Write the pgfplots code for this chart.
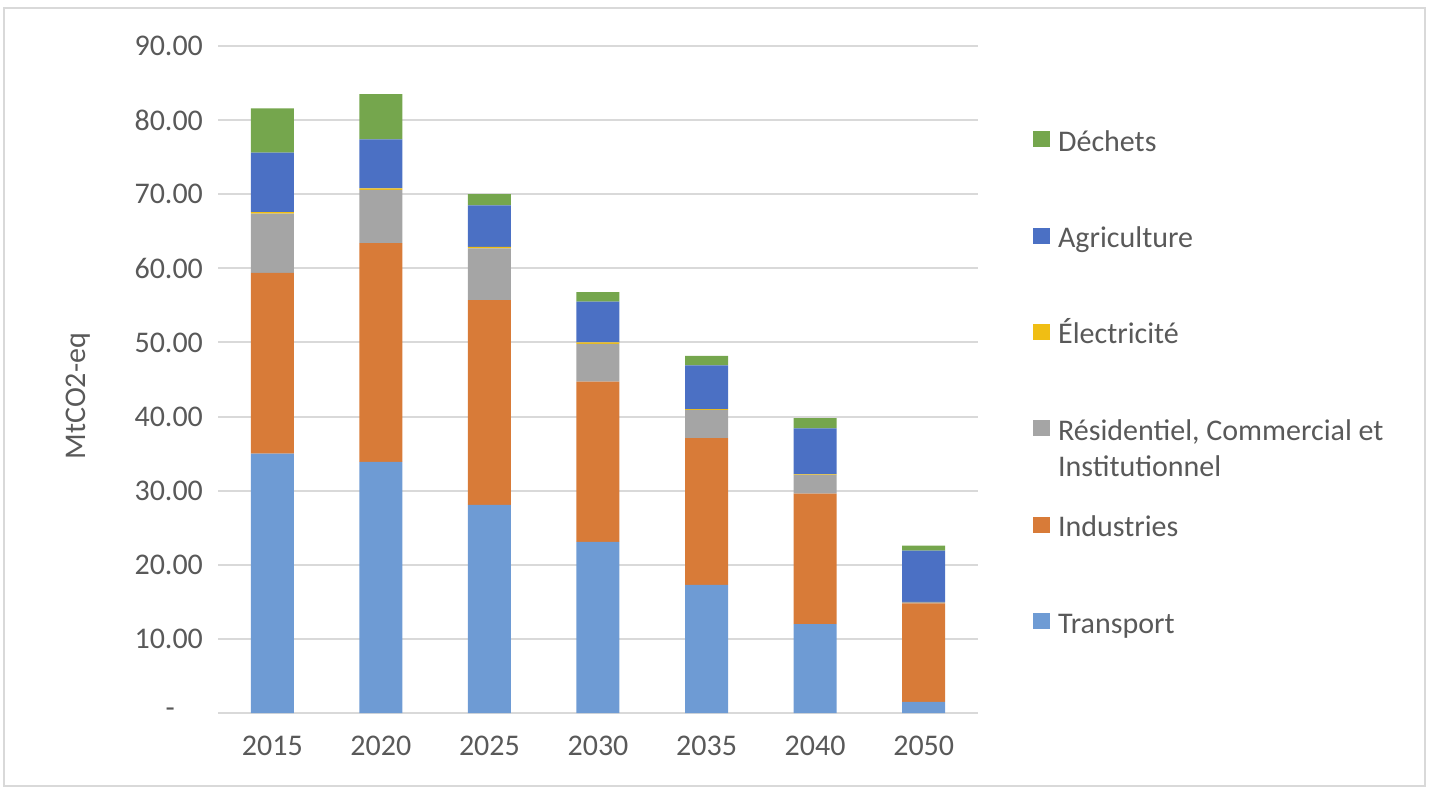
\documentclass[border=0pt]{standalone}
\usepackage{fontspec}
\setmainfont{Carlito}
\usepackage{pgfplots}
\pgfplotsset{compat=1.18}
\definecolor{ctransport}{RGB}{110,155,212}
\definecolor{cindus}{RGB}{216,123,56}
\definecolor{cresid}{RGB}{165,165,165}
\definecolor{celec}{RGB}{240,190,20}
\definecolor{cagri}{RGB}{75,112,196}
\definecolor{cdechets}{RGB}{117,166,77}
\definecolor{ctext}{RGB}{89,89,89}
\definecolor{cgrid}{RGB}{217,217,217}
\begin{document}
\begin{tikzpicture}[font=\fontsize{15}{18}\selectfont]
\path[use as bounding box] (0pt,0pt) rectangle (717.5pt,394.5pt);
\draw[cgrid, line width=0.8pt] (2pt,1.5pt) rectangle (712.5pt,390.5pt);
\begin{axis}[
  at={(109pt,38pt)}, anchor=south west,
  scale only axis, width=380pt, height=333.5pt,
  ybar stacked, bar width=21.5pt,
  xmin=-0.5, xmax=6.5, ymin=0, ymax=90,
  axis lines*=left,
  y axis line style={draw=none},
  x axis line style={draw=cgrid, line width=1pt},
  major tick length=0pt,
  ymajorgrids, grid style={draw=cgrid, line width=1pt},
  xtick={0,1,2,3,4,5,6},
  xticklabels={2015,2020,2025,2030,2035,2040,2050},
  ytick={0,10,20,30,40,50,60,70,80,90},
  yticklabels={{-\hspace*{14pt}},10.00,20.00,30.00,40.00,50.00,60.00,70.00,80.00,90.00},
  ticklabel style={font=\fontsize{15}{18}\selectfont, text=ctext},
  yticklabel style={xshift=-4pt},
  xticklabel style={yshift=-8pt},
  ylabel={MtCO2-eq},
  ylabel style={at={(axis description cs:-0.184,0.475)}, anchor=center, font=\fontsize{15}{18}\selectfont, text=ctext},
  every axis plot/.append style={draw=none},
  reverse legend,
  legend cell align=left,
  legend image code/.code={\fill[#1] (0pt,-1.5pt) rectangle (8.5pt,6.5pt);},
  legend style={at={(1.072,0.876)}, anchor=north west, draw=none, fill=none,
    inner sep=0pt, row sep=33.2pt, column sep=4pt,
    font=\fontsize{15}{18}\selectfont, text=ctext,
    nodes={inner sep=0pt, text height=11pt, text depth=4pt}},
]
\addplot[fill=ctransport] coordinates {(0,35.0) (1,33.9) (2,28.1) (3,23.1) (4,17.3) (5,12.0) (6,1.5)};
\addlegendentry{Transport}
\addplot[fill=cindus] coordinates {(0,24.4) (1,29.5) (2,27.6) (3,21.6) (4,19.8) (5,17.6) (6,13.3)};
\addlegendentry{Industries}
\addplot[fill=cresid] coordinates {(0,8.0) (1,7.2) (2,7.0) (3,5.1) (4,3.8) (5,2.5) (6,0.2)};
\addlegendentry{\parbox[t]{200pt}{Résidentiel, Commercial et\\Institutionnel}}
\addplot[fill=celec] coordinates {(0,0.2) (1,0.2) (2,0.2) (3,0.2) (4,0.1) (5,0.1) (6,0.0)};
\addlegendentry{Électricité}
\addplot[fill=cagri] coordinates {(0,8.0) (1,6.6) (2,5.6) (3,5.5) (4,5.9) (5,6.2) (6,6.9)};
\addlegendentry{Agriculture}
\addplot[fill=cdechets] coordinates {(0,6.0) (1,6.1) (2,1.5) (3,1.3) (4,1.3) (5,1.4) (6,0.7)};
\addlegendentry{Déchets}
\end{axis}
\end{tikzpicture}
\end{document}
